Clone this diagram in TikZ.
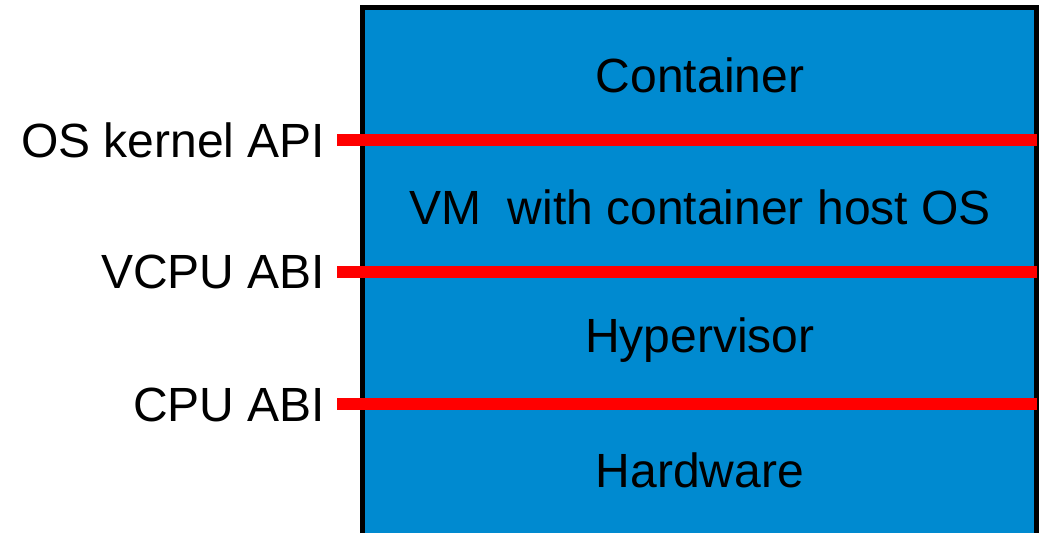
\documentclass[tikz,border=0pt]{standalone}
\usepackage{fontspec}
\setmainfont{Liberation Sans}
\definecolor{layerblue}{RGB}{0,138,208}
\definecolor{apired}{RGB}{255,0,0}
\tikzset{
  layertext/.style={font=\fontsize{48}{57}\selectfont, text=black, inner sep=0pt, anchor=center},
  apilabel/.style={font=\fontsize{48}{57}\selectfont, text=black, inner sep=0pt, anchor=east},
  apiline/.style={draw=apired, line width=12pt},
  frame/.style={draw=black, line width=5pt}
}
\begin{document}
\begin{tikzpicture}[x=1pt,y=1pt]
\useasboundingbox (0,0) rectangle (1046,-533);
% blue stack
\fill[layerblue] (362.5,-7.5) rectangle (1036.5,-533);
\draw[frame] (362.5,-533) -- (362.5,-7.5) -- (1036.5,-7.5) -- (1036.5,-533);
% layer texts
\node[layertext] (container) at (700,-75) {Container};
\node[layertext] (vm) at (700,-207) {VM\ \ with container host OS};
\node[layertext] (hyp) at (700,-340) {Hypervisor};
\node[layertext] (hw) at (700,-470) {Hardware};
% interfaces
\coordinate (k1a) at (337,-139.5); \coordinate (k1b) at (1037,-139.5);
\coordinate (k2a) at (337,-271.5); \coordinate (k2b) at (1037,-271.5);
\coordinate (k3a) at (337,-404);   \coordinate (k3b) at (1037,-404);
\draw[apiline] (k1a) -- (k1b);
\draw[apiline] (k2a) -- (k2b);
\draw[apiline] (k3a) -- (k3b);
\node[apilabel] (l1) at (325.5,-140) {OS kernel API};
\node[apilabel] (l2) at (325.5,-272) {VCPU ABI};
\node[apilabel] (l3) at (325.5,-405) {CPU ABI};
\end{tikzpicture}
\end{document}
